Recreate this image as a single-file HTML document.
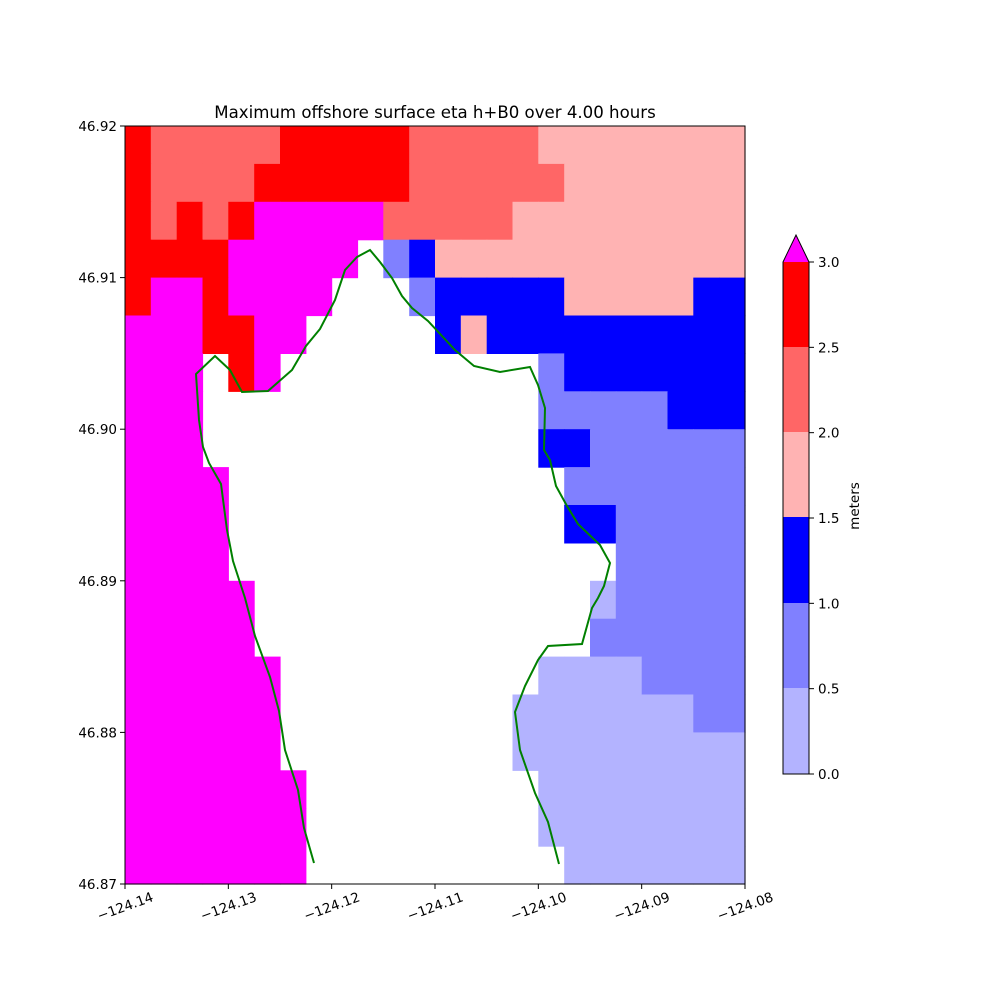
<!DOCTYPE html>
<html><head><meta charset="utf-8"><style>body{margin:0;background:#fff}svg{display:block;font-family:"DejaVu Sans","Liberation Sans",sans-serif}</style></head>
<body>
<svg id="s" width="1000" height="1000" xmlns="http://www.w3.org/2000/svg">
<text x="435" y="118" font-size="16.6" text-anchor="middle">Maximum offshore surface eta h+B0 over 4.00 hours</text>
<g id="cells"></g>
<polyline fill="none" stroke="#008000" stroke-width="2" points="314,863 304,828 298,790 285,750 279,711 270,677 255,636 245,598 233,561 227,530 221,484 209,463 203,447 199,420 196,374 215,356 230,370 242,392 268,391 292,370 306,346 320,329 335,300 345,270 357,257 370,250 380,262 392,278 402,296 412,308 428,321 442,336 455,350 474,366 500,372 530,367 538,385 545,408 544,450 550,460 556,486 567,506 578,524 600,545 610,563 604,586 598,598 592,608 582,644 548,646 538,660 525,686 515,712 520,750 535,793 548,822 559,864"/>
<rect x="125" y="126" width="620" height="758" fill="none" stroke="#000" stroke-width="1"/>
<g id="ax" font-size="13.5"></g>
<g>
<polygon points="783,262 796,235 809,262" fill="#ff00ff"/>
<rect x="783" y="262" width="26" height="86" fill="#ff0000"/>
<rect x="783" y="347" width="26" height="86" fill="#ff6666"/>
<rect x="783" y="432" width="26" height="86" fill="#ffb3b3"/>
<rect x="783" y="517" width="26" height="86" fill="#0000ff"/>
<rect x="783" y="603" width="26" height="86" fill="#8080ff"/>
<rect x="783" y="688" width="26" height="86" fill="#b3b3ff"/>
<polygon points="783,774 783,262 796,235 809,262 809,774" fill="none" stroke="#000"/>
<text transform="translate(859,506) rotate(-90)" font-size="13.5" text-anchor="middle">meters</text>
</g>
</svg>
<script>
var W=function(n){return "W".repeat(n);};
var rows=["RHHHHHRRRRRHHHHHPPPPPPPP","RHHHHRRRRRRHHHHHHPPPPPPP","RHRHRGGGGGHHHHHPPPPPPPPP","RRRRGGGGGWMBPPPPPPPPPPPP","RGGRGGGGWWWMBBBBBPPPPPBB","GGGRRGGWWWWWBPBBBBBBBBBB","GGGWRGWWWWWWWWWWMBBBBBBB",
"GGG"+W(13)+"MMMMMBBB","GGG"+W(13)+"BBMMMMMM","GGGG"+W(13)+"MMMMMMM","GGGG"+W(13)+"BBMMMMM","GGGG"+W(15)+"MMMMM",
"GGGGG"+W(13)+"LMMMMM","GGGGG"+W(13)+"MMMMMM","GGGGGG"+W(10)+"LLLLMMMM","GGGGGG"+W(9)+"LLLLLLLMM","GGGGGG"+W(9)+"LLLLLLLLL",
"GGGGGGG"+W(9)+"LLLLLLLL","GGGGGGG"+W(9)+"LLLLLLLL","GGGGGGG"+W(10)+"LLLLLLL"];
var C={R:"#ff0000",H:"#ff6666",P:"#ffb3b3",B:"#0000ff",M:"#8080ff",L:"#b3b3ff",G:"#ff00ff"};
var h="",cw=620/24,rh=758/20;
rows.forEach(function(r,j){for(var i=0;i<24;i++){var c=r[i];if(c=="W")continue;
var x0=125+i*cw,y0=126+j*rh;h+='<rect x="'+x0.toFixed(1)+'" y="'+y0.toFixed(1)+'" width="'+(cw+0.6).toFixed(1)+'" height="'+(rh+0.6).toFixed(1)+'" fill="'+C[c]+'"/>';}});
document.getElementById("cells").innerHTML=h;
var a="";
var xl=["\u2212124.14","\u2212124.13","\u2212124.12","\u2212124.11","\u2212124.10","\u2212124.09","\u2212124.08"];
for(var k=0;k<7;k++){var x=125+k*620/6;a+='<line x1="'+x+'" y1="884" x2="'+x+'" y2="889" stroke="#000"/>';
a+='<text transform="translate('+x+',906) rotate(-20)" text-anchor="middle" y="5">'+xl[k]+'</text>';}
var yl=["46.87","46.88","46.89","46.90","46.91","46.92"];
for(var k=0;k<6;k++){var y=884-k*758/5;a+='<line x1="120" y1="'+y+'" x2="125" y2="'+y+'" stroke="#000"/>';
a+='<text x="117" y="'+(y+5)+'" text-anchor="end">'+yl[k]+'</text>';}
var cl=["0.0","0.5","1.0","1.5","2.0","2.5","3.0"];
for(var k=0;k<7;k++){var y=774-k*512/6;a+='<line x1="809" y1="'+y+'" x2="814" y2="'+y+'" stroke="#000"/>';
a+='<text x="818" y="'+(y+5)+'">'+cl[k]+'</text>';}
document.getElementById("ax").innerHTML=a;
</script>
</body></html>
